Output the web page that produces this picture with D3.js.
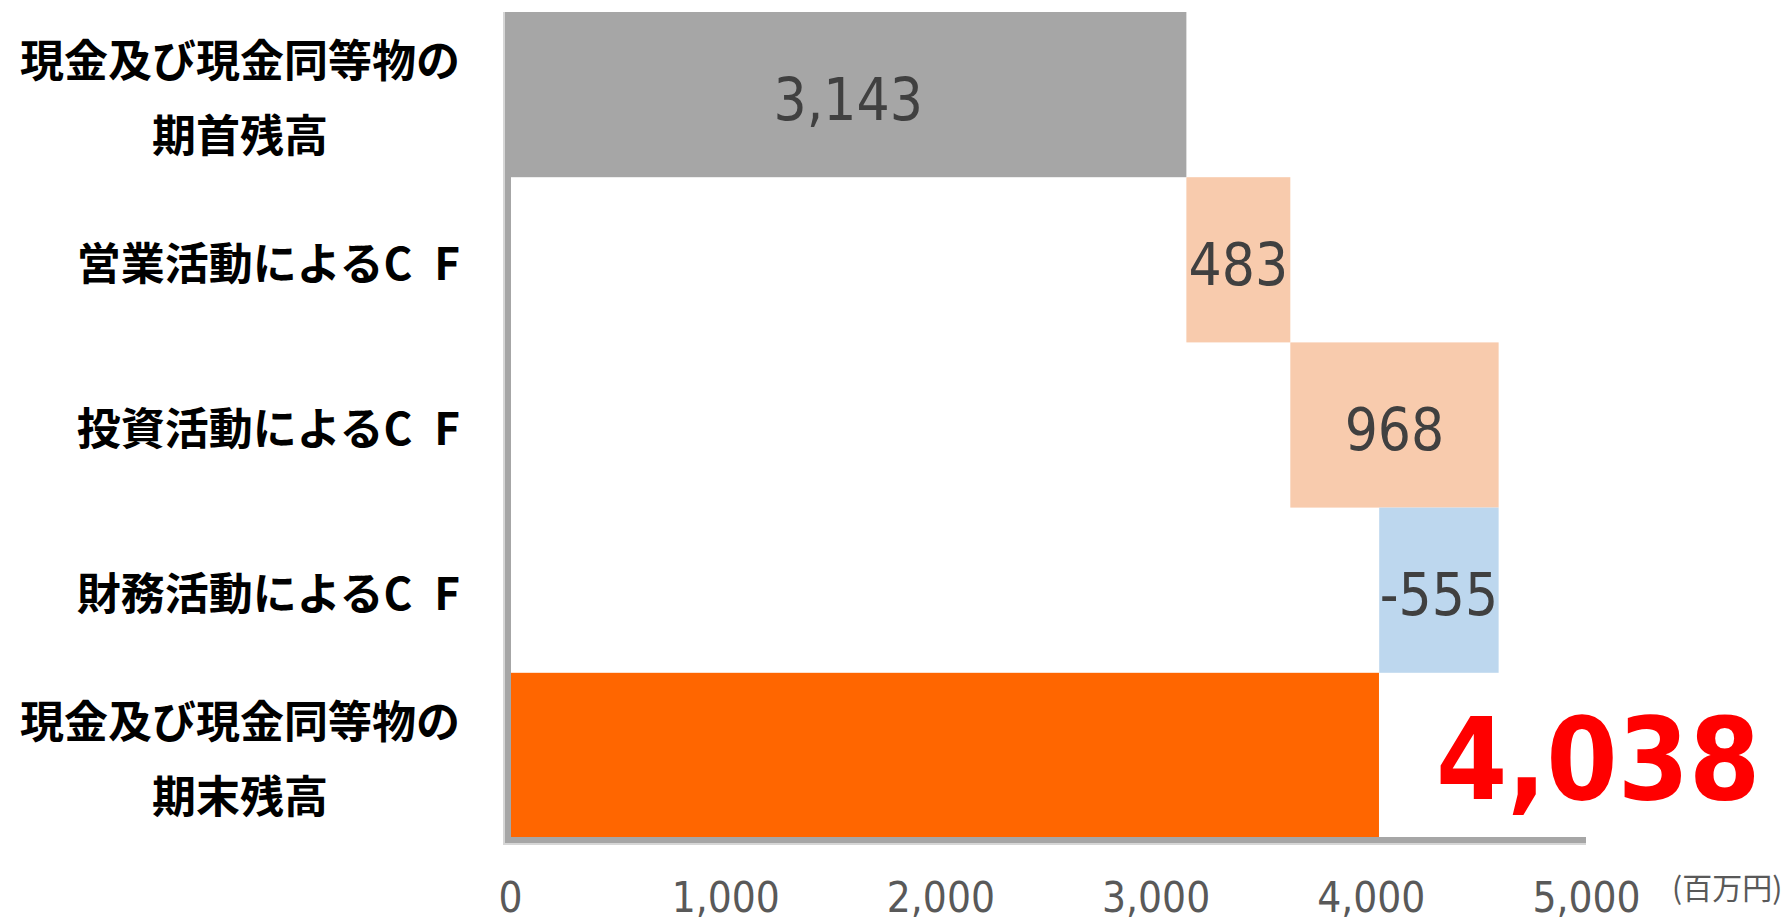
<!DOCTYPE html>
<html>
<head>
<meta charset="utf-8">
<script src="https://cdn.jsdelivr.net/npm/d3@7"></script>
<style>
  body { margin: 0; background: #ffffff; }
</style>
</head>
<body>
<svg id="chart" width="1786" height="921"></svg>
<script>
// Cash flow bridge: opening balance, three cash-flow steps, closing balance (百万円)
const categories = [
  "現金及び現金同等物の\n期首残高",
  "営業活動によるC\u2002F",
  "投資活動によるC\u2002F",
  "財務活動によるC\u2002F",
  "現金及び現金同等物の\n期末残高"
];
const amounts = [3143, 483, 968, -555, 4038];
const stepTypes = ["total", "change", "change", "change", "total"];
const xTicks = [0, 1000, 2000, 3000, 4000, 5000];
const unitLabel = "(百万円)";

const svg = d3.select("#chart");

const x = d3.scaleLinear().domain([0, 5000]).range([510, 1586]);
const y = d3.scaleBand().domain(categories).range([12, 838]).padding(0);

const fmt = d3.formatLocale({
  decimal: ".", thousands: ",", grouping: [3], currency: ["", ""], minus: "-"
}).format(",");

// Floating bars: totals start at zero, changes start at the running balance
let running = 0;
const steps = categories.map((cat, i) => {
  const v = amounts[i];
  let start, end;
  if (stepTypes[i] === "total") { start = 0; end = v; running = v; }
  else { start = running; end = running + v; running = end; }
  return { cat, value: v, type: stepTypes[i], lo: Math.min(start, end), hi: Math.max(start, end), i };
});

const last = steps.length - 1;
function barColor(d) {
  if (d.type === "total") return d.i === last ? "#ff6600" : "#a6a6a6";
  return d.value >= 0 ? "#f8cbad" : "#bdd7ee";
}

svg.append("g").selectAll("rect")
  .data(steps)
  .join("rect")
  .attr("x", d => x(d.lo))
  .attr("y", d => y(d.cat))
  .attr("width", d => x(d.hi) - x(d.lo))
  .attr("height", y.bandwidth())
  .attr("fill", barColor);

// Axis lines (left and bottom) with a faint shadow edge
const axisG = svg.append("g");
axisG.append("rect").attr("x", 503).attr("y", y.range()[0]).attr("width", 2)
  .attr("height", 845 - y.range()[0]).attr("fill", "#d6d6d6");
axisG.append("rect").attr("x", 505).attr("y", y.range()[0]).attr("width", 6)
  .attr("height", 843 - y.range()[0]).attr("fill", "#a6a6a6");
axisG.append("rect").attr("x", 505).attr("y", 843).attr("width", x(5000) - 505)
  .attr("height", 2).attr("fill", "#d6d6d6");
axisG.append("rect").attr("x", 505).attr("y", 837).attr("width", x(5000) - 505)
  .attr("height", 6).attr("fill", "#a6a6a6");

// Value labels inside the step bars
svg.append("g").selectAll("text")
  .data(steps.filter(d => d.i !== last))
  .join("text")
  .attr("x", d => (x(d.lo) + x(d.hi)) / 2)
  .attr("y", d => y(d.cat) + y.bandwidth() / 2 + 5)
  .attr("text-anchor", "middle")
  .attr("dominant-baseline", "central")
  .attr("font-family", "'DejaVu Sans Condensed', 'DejaVu Sans', sans-serif")
  .attr("font-stretch", "condensed")
  .attr("font-size", 58)
  .attr("fill", "#404040")
  .text(d => fmt(d.value));

// Closing balance, emphasised to the right of its bar
const closing = steps[last];
svg.append("text")
  .attr("x", x(closing.hi) + 57)
  .attr("y", y(closing.cat) + y.bandwidth() / 2 + 4)
  .attr("dominant-baseline", "central")
  .attr("font-family", "'DejaVu Sans Condensed', 'DejaVu Sans', sans-serif")
  .attr("font-stretch", "condensed")
  .attr("font-weight", "bold")
  .attr("font-size", 114)
  .attr("fill", "#ff0000")
  .text(fmt(closing.value));

// Category labels, right-aligned block; multi-line labels centred within the block
const labelRight = 460;
const lineGap = 75;
const catG = svg.append("g");
categories.forEach(cat => {
  const lines = cat.split("\n");
  const cy = y(cat) + y.bandwidth() / 2 + 1;
  const texts = lines.map((ln, k) => catG.append("text")
    .attr("y", cy + (k - (lines.length - 1) / 2) * lineGap)
    .attr("dominant-baseline", "central")
    .attr("text-anchor", "middle")
    .attr("font-family", "'Noto Sans CJK JP', sans-serif")
    .attr("font-weight", "bold")
    .attr("font-size", 44)
    .attr("fill", "#000000")
    .text(ln));
  const maxW = d3.max(texts, t => t.node().getComputedTextLength());
  texts.forEach(t => t.attr("x", labelRight - maxW / 2));
});

// Bottom tick labels
const xAxis = svg.append("g")
  .attr("transform", "translate(0,879)")
  .call(d3.axisBottom(x).tickValues(xTicks).tickFormat(fmt).tickSize(0));
xAxis.select(".domain").remove();
xAxis.selectAll("text")
  .attr("font-family", "'DejaVu Sans Condensed', 'DejaVu Sans', sans-serif")
  .attr("font-stretch", "condensed")
  .attr("font-size", 42)
  .attr("fill", "#595959");

// Unit note
svg.append("text")
  .attr("x", 1672)
  .attr("y", 899)
  .attr("font-family", "'Noto Sans CJK JP', sans-serif")
  .attr("font-size", 30)
  .attr("fill", "#595959")
  .text(unitLabel);
</script>
</body>
</html>
